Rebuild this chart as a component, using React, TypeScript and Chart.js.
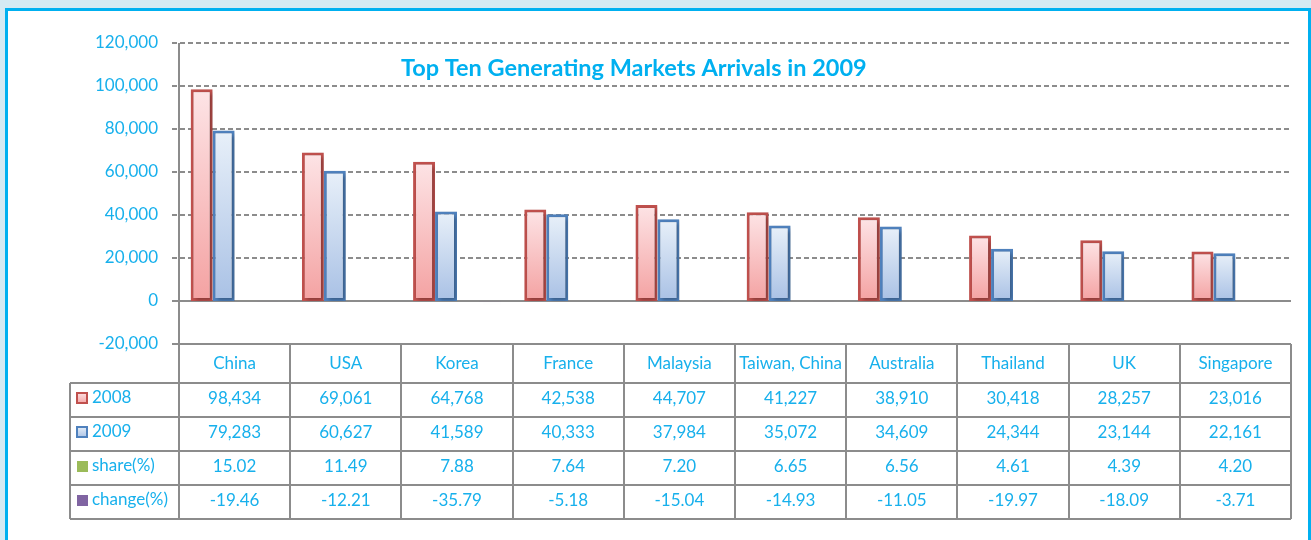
import { useEffect, useRef } from 'react';
import { Chart, registerables } from 'chart.js';

Chart.register(...registerables);

const categories = ['China', 'USA', 'Korea', 'France', 'Malaysia', 'Taiwan, China', 'Australia', 'Thailand', 'UK', 'Singapore'];
const arrivals2008 = [98434, 69061, 64768, 42538, 44707, 41227, 38910, 30418, 28257, 23016];
const arrivals2009 = [79283, 60627, 41589, 40333, 37984, 35072, 34609, 24344, 23144, 22161];
const sharePct = [15.02, 11.49, 7.88, 7.64, 7.2, 6.65, 6.56, 4.61, 4.39, 4.2];
const changePct = [-19.46, -12.21, -35.79, -5.18, -15.04, -14.93, -11.05, -19.97, -18.09, -3.71];
const seriesLabels = ['2008', '2009', 'share(%)', 'change(%)'];
const yMin = -20000;
const yMax = 120000;
const yStep = 20000;
const titleText = 'Top Ten Generating Markets Arrivals in 2009';

const TEXT = '#17b0ec';
const GRID = '#8c8c8c';
const RED_BORDER = '#c0504d';
const BLUE_BORDER = '#4f81bd';

function gradFill(top: string, bottom: string) {
  return (ctx: any) => {
    const chart = ctx.chart;
    const y = chart.scales?.y;
    if (!y || ctx.type !== 'data') return bottom;
    const v = ctx.parsed ? ctx.parsed.y : ctx.raw;
    const p1 = y.getPixelForValue(v);
    const p0 = y.getPixelForValue(0);
    if (!isFinite(p1) || !isFinite(p0) || Math.abs(p1 - p0) < 1) return bottom;
    const g = chart.ctx.createLinearGradient(0, Math.min(p0, p1), 0, Math.max(p0, p1));
    g.addColorStop(0, top);
    g.addColorStop(1, bottom);
    return g;
  };
}

const fmtInt = (v: number) => v.toLocaleString('en-US');
const fmtDec = (v: number) => v.toFixed(2);

const decorPlugin = {
  id: 'decor',
  beforeDatasetsDraw(chart: any) {
    const { ctx, chartArea } = chart;
    const y = chart.scales.y;
    ctx.save();
    ctx.lineWidth = 2;
    ctx.strokeStyle = GRID;
    y.ticks.forEach((t: any) => {
      const py = Math.round(y.getPixelForValue(t.value));
      ctx.beginPath();
      if (t.value === 0 || t.value === yMin) ctx.setLineDash([]);
      else ctx.setLineDash([5, 3]);
      ctx.moveTo(chartArea.left - 7, py);
      ctx.lineTo(chartArea.right, py);
      ctx.stroke();
    });
    ctx.setLineDash([]);
    ctx.beginPath();
    ctx.moveTo(chartArea.left, chartArea.top);
    ctx.lineTo(chartArea.left, chartArea.bottom);
    ctx.stroke();
    ctx.restore();
    ctx.save();
    ctx.shadowColor = 'rgba(0,0,0,0.3)';
    ctx.shadowBlur = 4;
    ctx.shadowOffsetX = 2;
    ctx.shadowOffsetY = 2;
  },
  afterDatasetsDraw(chart: any) {
    chart.ctx.restore();
  },
  afterDraw(chart: any) {
    const { ctx, chartArea } = chart;
    const x = chart.scales.x;
    const n = categories.length;
    const cw = (x.right - x.left) / n;
    const headTop = chartArea.bottom;
    const headBottom = headTop + 39;
    const rowH = 34;
    const tableLeft = 70;
    const tableBottom = headBottom + rowH * 4;

    // title
    ctx.save();
    ctx.font = 'bold 23.5px Lato';
    ctx.fillStyle = '#00b0f0';
    ctx.textAlign = 'center';
    ctx.textBaseline = 'middle';
    ctx.fillText(titleText, chartArea.left + chartArea.width * 0.409, chartArea.top + 25);
    ctx.restore();

    // table lines
    ctx.save();
    ctx.strokeStyle = GRID;
    ctx.lineWidth = 2;
    for (let k = 0; k <= 4; k++) {
      const py = headBottom + k * rowH;
      ctx.beginPath();
      ctx.moveTo(tableLeft, py);
      ctx.lineTo(x.right, py);
      ctx.stroke();
    }
    for (let i = 0; i <= n; i++) {
      const px = Math.round(x.left + i * cw);
      ctx.beginPath();
      ctx.moveTo(px, headTop);
      ctx.lineTo(px, tableBottom);
      ctx.stroke();
    }
    ctx.beginPath();
    ctx.moveTo(tableLeft, headBottom);
    ctx.lineTo(tableLeft, tableBottom);
    ctx.stroke();
    ctx.restore();

    // table text
    ctx.save();
    ctx.font = '17px Lato';
    ctx.fillStyle = TEXT;
    ctx.textAlign = 'center';
    ctx.textBaseline = 'middle';
    categories.forEach((c, i) => {
      ctx.fillText(c, x.getPixelForValue(i), (headTop + headBottom) / 2);
    });
    const rows = [
      arrivals2008.map(fmtInt),
      arrivals2009.map(fmtInt),
      sharePct.map(fmtDec),
      changePct.map(fmtDec),
    ];
    rows.forEach((vals, r) => {
      const cy = headBottom + r * rowH + rowH / 2 - 1;
      vals.forEach((v, i) => ctx.fillText(v, x.getPixelForValue(i), cy));
    });
    // row labels & markers
    ctx.textAlign = 'left';
    seriesLabels.forEach((lab, r) => {
      const cy = headBottom + r * rowH + rowH / 2 - 2;
      const mx = tableLeft + 6;
      const my = cy - 6;
      if (r === 0 || r === 1) {
        const g = ctx.createLinearGradient(0, my, 0, my + 12);
        g.addColorStop(0, r === 0 ? '#fde4e6' : '#e8f0f9');
        g.addColorStop(1, r === 0 ? '#f4a2a2' : '#a9c1e5');
        ctx.fillStyle = g;
        ctx.fillRect(mx, my, 12, 12);
        ctx.strokeStyle = r === 0 ? RED_BORDER : BLUE_BORDER;
        ctx.lineWidth = 2;
        ctx.strokeRect(mx + 1, my + 1, 10, 10);
      } else {
        ctx.fillStyle = r === 2 ? '#9bbb59' : '#8064a2';
        ctx.fillRect(mx + 1, my + 1, 11, 11);
      }
      ctx.fillStyle = TEXT;
      ctx.fillText(lab, tableLeft + 22, cy);
    });
    ctx.restore();
  },
};

export default function App() {
  const ref = useRef<HTMLCanvasElement>(null);
  useEffect(() => {
    document.body.style.margin = '0';
    let chart: Chart | null = null;
    let cancelled = false;
    const make = () => {
      if (cancelled || !ref.current) return;
      chart = new Chart(ref.current, {
        type: 'bar',
        data: {
          labels: categories,
          datasets: [
            {
              label: seriesLabels[0],
              data: arrivals2008,
              backgroundColor: gradFill('#fde4e6', '#f4a2a2'),
              borderColor: RED_BORDER,
              borderWidth: 3,
              borderSkipped: false,
            },
            {
              label: seriesLabels[1],
              data: arrivals2009,
              backgroundColor: gradFill('#e8f0f9', '#a9c1e5'),
              borderColor: BLUE_BORDER,
              borderWidth: 3,
              borderSkipped: false,
            },
            {
              label: seriesLabels[2],
              data: sharePct,
              backgroundColor: '#9bbb59',
              borderWidth: 0,
            },
            {
              label: seriesLabels[3],
              data: changePct,
              backgroundColor: '#8064a2',
              borderWidth: 0,
            },
          ],
        },
        options: {
          responsive: false,
          animation: false,
          devicePixelRatio: 1,
          layout: { padding: { left: 0, right: 20, top: 43, bottom: 196 } },
          datasets: { bar: { categoryPercentage: 0.79, barPercentage: 1 } },
          plugins: {
            legend: { display: false },
            title: { display: false },
            tooltip: { enabled: false },
          },
          scales: {
            x: { display: false },
            y: {
              min: yMin,
              max: yMax,
              grid: { display: false, drawTicks: false },
              border: { display: false },
              ticks: {
                stepSize: yStep,
                padding: 21,
                color: TEXT,
                font: { family: 'Lato', size: 17 },
                callback: (v: any) => Number(v).toLocaleString('en-US'),
              },
              afterFit: (scale: any) => {
                scale.width = 179;
              },
            },
          },
        },
        plugins: [decorPlugin],
      });
    };
    Promise.all([document.fonts.load('17px Lato'), document.fonts.load('bold 23.5px Lato')]).then(make, make);
    return () => {
      cancelled = true;
      if (chart) chart.destroy();
    };
  }, []);
  return (
    <div style={{ position: 'relative', width: 1311, height: 540, overflow: 'hidden', background: '#d5eaf3' }}>
      <div
        style={{
          position: 'absolute',
          left: 5,
          top: 8,
          width: 1306,
          height: 620,
          boxSizing: 'border-box',
          border: '3px solid #00b0f0',
          background: '#ffffff',
        }}
      />
      <canvas ref={ref} width={1311} height={540} style={{ position: 'absolute', left: 0, top: 0 }} />
    </div>
  );
}
